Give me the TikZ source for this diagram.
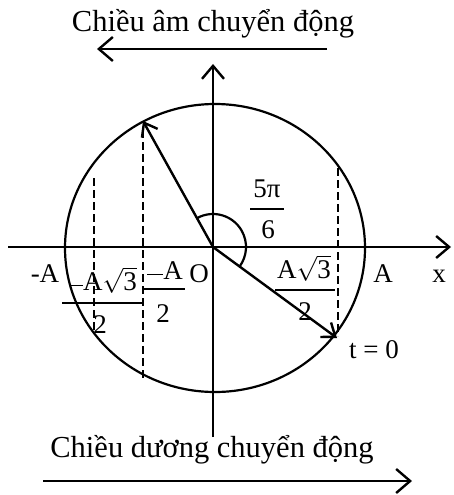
\documentclass[tikz,border=0pt]{standalone}
\usepackage{fontspec}
\setmainfont{Liberation Serif}
\usetikzlibrary{arrows.meta}
\tikzset{
  axis/.style={line width=2.4pt,-{Straight Barb[length=13pt,width=22pt,line width=2.4pt]}},
  vec/.style={line width=2.4pt,-{Straight Barb[length=12pt,width=18pt,line width=2.4pt]}},
  motion/.style={line width=2.4pt,-{Straight Barb[length=14pt,width=24pt,line width=2.4pt]}},
  dashline/.style={line width=2.2pt,dash pattern=on 8pt off 4pt},
  fracbar/.style={line width=1.2pt},
  lbl/.style={inner sep=0pt,anchor=base,font=\fontsize{27}{31}\selectfont},
  big/.style={inner sep=0pt,anchor=base,font=\fontsize{30.5}{34}\selectfont},
}
\begin{document}
\begin{tikzpicture}[x=1pt,y=-1pt]
\useasboundingbox (0,0) rectangle (454,495);
% coordinates
\coordinate (O) at (213,247);
\coordinate (C) at (215,248);
\coordinate (xL) at (8,247);
\coordinate (xR) at (451,247);
\coordinate (yB) at (213,437);
\coordinate (yT) at (213,64);
\coordinate (P1) at (143,121);
\coordinate (P2) at (337,338);
\coordinate (dA1) at (94,178);
\coordinate (dA2) at (94,333);
\coordinate (dB1) at (143,130);
\coordinate (dB2) at (143,378);
\coordinate (dC1) at (338,168);
\coordinate (dC2) at (338,336);
\coordinate (tS) at (327,49);
\coordinate (tE) at (97,49);
\coordinate (bS) at (43,481);
\coordinate (bE) at (412,481);
% circle
\draw[line width=2.2pt] (C) ellipse [x radius=150,y radius=144];
% axes
\draw[axis] (xL) -- (xR);
\draw[axis] (yB) -- (yT);
% dashed projections
\draw[dashline] (dA1) -- (dA2);
\draw[dashline] (dB1) -- (dB2);
\draw[dashline] (dC1) -- (dC2);
% vectors
\draw[vec] (O) -- (P1);
\draw[vec] (O) -- (P2);
% angle arc
\draw[line width=2.2pt] ([shift={(-119:33)}]O) arc[start angle=-119,end angle=36,radius=33];
% motion arrows and texts
\draw[motion] (tS) -- (tE);
\draw[motion] (bS) -- (bE);
\node[big] (top) at (213,32) {Chiều âm chuyển động};
\node[big] (bot) at (212,457) {Chiều dương chuyển động};
% axis labels
\node[lbl] (mA) at (45,282) {-A};
\node[lbl] (Olab) at (199,282) {O};
\node[lbl] (Alab) at (383,282) {A};
\node[lbl] (xlab) at (439,282) {x};
\node[lbl] (t0) at (374,358) {t = 0};
% fraction -A sqrt3 / 2
\node[lbl] (n1) at (103,290) {\rule[0.3ex]{14pt}{1.2pt}A$\sqrt{\hbox{3}}$};
\draw[fracbar] (62,303) -- (142,303);
\node[lbl] (d1) at (100,333) {2};
% fraction -A / 2
\node[lbl] (n2) at (165,279) {\rule[0.3ex]{16pt}{1.2pt}A};
\draw[fracbar] (143,289) -- (185,289);
\node[lbl] (d2) at (163,322) {2};
% fraction A sqrt3 / 2
\node[lbl] (n3) at (304,278) {A$\sqrt{\hbox{3}}$};
\draw[fracbar] (275,290) -- (335,290);
\node[lbl] (d3) at (305,320) {2};
% fraction 5pi/6
\node[lbl] (n4) at (267,197) {5π};
\draw[fracbar] (250,209) -- (284,209);
\node[lbl] (d4) at (268,238) {6};
\end{tikzpicture}
\end{document}
